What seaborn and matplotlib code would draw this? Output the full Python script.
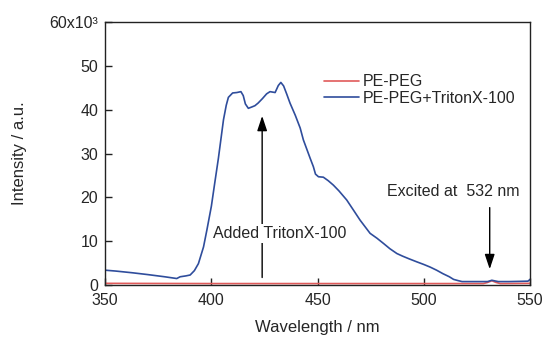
import numpy as np
import pandas as pd
import seaborn as sns
import matplotlib
matplotlib.use("Agg")
import matplotlib.pyplot as plt

# spectra (intensity in units of 10^3)
wl_triton = [350, 355, 363, 370, 378, 383.7, 385.3, 388, 390, 392, 393.9, 396.3,
             397.9, 400, 401.5, 403.3, 405.7, 407, 408, 410, 412, 413.9, 415, 416,
             417.4, 419, 420.5, 422, 424, 426, 427.6, 430, 431.5, 432.7, 434, 435.5,
             437, 439.5, 441.8, 443.3, 446.5, 448, 449, 450.4, 452.7, 455, 457.4,
             460, 463.7, 467, 470, 474.7, 477.9, 481, 484, 487.3, 490, 493, 496.7,
             500, 503, 506, 509, 512, 514, 516.3, 518, 525, 530, 532, 535, 540,
             545, 549, 550]
int_triton = [3.4, 3.2, 2.8, 2.4, 1.9, 1.5, 1.9, 2.1, 2.3, 3.3, 4.9, 8.7,
              12.6, 18.0, 23.0, 28.9, 37.7, 41.0, 42.8, 43.8, 43.9, 44.1, 43.2, 41.3,
              40.3, 40.6, 40.9, 41.5, 42.5, 43.6, 44.1, 43.9, 45.5, 46.2, 45.4, 43.5,
              41.5, 38.7, 35.8, 33.1, 28.9, 27.0, 25.3, 24.7, 24.6, 23.8, 22.8,
              21.5, 19.4, 17.0, 14.8, 11.8, 10.7, 9.5, 8.3, 7.2, 6.6, 6.0, 5.3,
              4.7, 4.1, 3.4, 2.6, 1.9, 1.3, 1.0, 0.8, 0.8, 0.8, 1.1, 0.8, 0.8,
              0.85, 0.9, 1.3]
wl_peg = [350, 400, 450, 500, 528, 530, 532, 534, 536, 550]
int_peg = [0.4, 0.35, 0.35, 0.35, 0.35, 0.6, 1.0, 0.6, 0.35, 0.4]

labels = ["PE-PEG", "PE-PEG+TritonX-100"]
colors = ["#e05a5a", "#2f4d9c"]
yticks = [0, 10, 20, 30, 40, 50, 60]
ytick_labels = ["0", "10", "20", "30", "40", "50", "60x10\u00b3"]
xticks = [350, 400, 450, 500, 550]

df = pd.concat([
    pd.DataFrame({"wl": wl_peg, "I": int_peg, "sample": labels[0]}),
    pd.DataFrame({"wl": wl_triton, "I": int_triton, "sample": labels[1]}),
])

sns.set_style("ticks")
plt.rcParams["font.family"] = ["Liberation Sans", "DejaVu Sans"]
plt.rcParams["xtick.direction"] = "in"
plt.rcParams["ytick.direction"] = "in"

fig = plt.figure(figsize=(5.42, 3.37), dpi=100)
ax = fig.add_axes([0.194, 0.154, 0.784, 0.781])

sns.lineplot(data=df, x="wl", y="I", hue="sample", palette=colors,
             hue_order=labels, sort=False, linewidth=1.2, ax=ax)

ax.set_xlim(350, 550)
ax.set_ylim(0, 60)
ax.set_xticks(xticks)
ax.set_yticks(yticks)
ax.set_yticklabels(ytick_labels)
ax.tick_params(labelsize=11.5, length=5, width=1, color="#222222")
ax.tick_params(axis="x", pad=6)
ax.tick_params(axis="y", pad=5)
for s in ax.spines.values():
    s.set_linewidth(1)
    s.set_color("#222222")
    s.set_visible(True)

ax.set_xlabel("Wavelength / nm", fontsize=12, labelpad=8)
ax.set_ylabel("Intensity / a.u.", fontsize=12, labelpad=16)

leg = ax.legend(loc="upper left", bbox_to_anchor=(0.5, 0.825), frameon=False,
                fontsize=11.5, handlelength=2.2, handletextpad=0.2,
                borderaxespad=0, labelspacing=0.1)

# arrows and annotations
ax.annotate("", xy=(423.9, 39.2), xytext=(423.9, 1.1),
            arrowprops=dict(arrowstyle="-|>,head_width=0.3,head_length=0.9",
                            color="black", lw=1))
ax.text(432, 11.8, "Added TritonX-100", fontsize=11.5, ha="center", va="center",
        bbox=dict(facecolor="white", edgecolor="none", pad=1.5), zorder=5)
ax.annotate("", xy=(531, 3.0), xytext=(531, 18.3),
            arrowprops=dict(arrowstyle="-|>,head_width=0.3,head_length=0.9",
                            color="black", lw=1))
ax.text(514, 21.3, "Excited at  532 nm", fontsize=11.5, ha="center", va="center")

fig.savefig("out.png", dpi=100)
